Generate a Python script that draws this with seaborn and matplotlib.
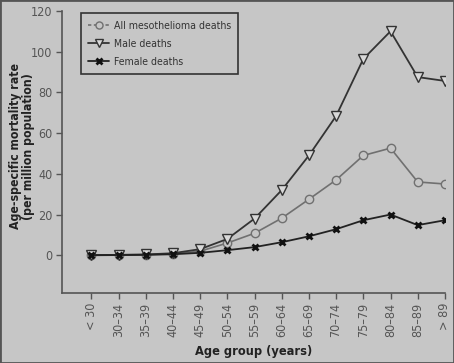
import matplotlib
matplotlib.use("Agg")
import matplotlib.pyplot as plt
import seaborn as sns
import pandas as pd
from matplotlib import font_manager as fm

age_groups = ["< 30", "30–34", "35–39", "40–44", "45–49", "50–54", "55–59",
              "60–64", "65–69", "70–74", "75–79", "80–84", "85–89", "> 89"]
all_deaths = [0.1, 0.2, 0.3, 0.7, 2.0, 6.0, 10.8, 18.2, 27.5, 37.0, 49.0, 52.6, 36.0, 35.0]
male_deaths = [0.1, 0.2, 0.4, 1.0, 3.0, 8.0, 18.0, 32.0, 49.0, 68.4, 96.4, 110.0, 87.5, 85.6]
female_deaths = [0.0, 0.1, 0.2, 0.5, 1.2, 2.5, 4.0, 6.4, 9.3, 12.8, 17.2, 20.0, 14.8, 17.2]

sns.set_theme(style="ticks")
fl = fm.fontManager.ttflist
names = {f.name for f in fl}
if "Liberation Sans Narrow" in names:
    plt.rcParams["font.family"] = ["Liberation Sans Narrow", "DejaVu Sans"]
    small = 0
elif any(f.name == "DejaVu Sans" and "condensed" in str(f.stretch) for f in fl):
    plt.rcParams["font.family"] = ["DejaVu Sans"]
    plt.rcParams["font.stretch"] = "condensed"
    small = 1
else:
    plt.rcParams["font.family"] = ["Liberation Sans", "DejaVu Sans"]
    small = 2

fs_tick = [10, 9, 8.5][small]
fs_lab = [10, 8.8, 8.5][small]
fs_leg = [8.5, 7.6, 7.2][small]

bg = "#c6c6c6"
fig = plt.figure(figsize=(4.54, 3.63), dpi=100, facecolor=bg)
ax = fig.add_axes([0.137, 0.193, 0.843, 0.777])
ax.set_facecolor(bg)

df = pd.DataFrame({"age": age_groups, "all": all_deaths,
                   "male": male_deaths, "female": female_deaths})

sns.lineplot(data=df, x="age", y="all", ax=ax, color="#707070", lw=1.2,
             marker="o", markersize=6, markerfacecolor=bg, markeredgecolor="#707070",
             markeredgewidth=1.0, label="All mesothelioma deaths", sort=False)
sns.lineplot(data=df, x="age", y="male", ax=ax, color="#333333", lw=1.3,
             marker="v", markersize=7.5, markerfacecolor="#d8d8d8", markeredgecolor="#333333",
             markeredgewidth=1.0, label="Male deaths", sort=False)
sns.lineplot(data=df, x="age", y="female", ax=ax, color="#222222", lw=1.3,
             marker="x", markersize=5, markeredgewidth=2.0, markeredgecolor="#111111",
             label="Female deaths", sort=False)

ax.set_xlim(-1.07, 13.0)
ax.set_ylim(-18.5, 120)
ax.set_yticks([0, 20, 40, 60, 80, 100, 120])
ax.set_xticks(range(len(age_groups)))
ax.set_xticklabels(age_groups, rotation=90)
ax.tick_params(axis="both", colors="#555555", labelsize=fs_tick, length=4, width=1,
               direction="out", pad=3)
for s in ["top", "right"]:
    ax.spines[s].set_visible(False)
for s in ["left", "bottom"]:
    ax.spines[s].set_color("#555555")
    ax.spines[s].set_linewidth(1.2)

ax.set_xlabel("Age group (years)", fontsize=fs_lab + 0.4, fontweight="bold", color="#222222",
              labelpad=6)
ax.set_ylabel("Age-specific mortality rate\n(per million population)", fontsize=fs_lab,
              fontweight="bold", color="#222222", linespacing=1.05)
ax.yaxis.set_label_coords(-0.07, 0.52)

leg = ax.legend(loc="upper left", bbox_to_anchor=(0.035, 1.01), frameon=True,
                fancybox=False, edgecolor="#333333", facecolor=bg, framealpha=1,
                fontsize=fs_leg, handlelength=2.0, labelcolor="#333333",
                borderpad=0.7, labelspacing=0.75, handletextpad=0.4, markerscale=0.85)
leg.get_frame().set_linewidth(1.2)
leg.get_lines()[0].set_linestyle((0, (2, 1.5)))

fig.patches.append(plt.Rectangle((0, 0), 1, 1, transform=fig.transFigure,
                                 fill=False, edgecolor="#555555", lw=2))
fig.savefig("out.png", dpi=100, facecolor=bg)
